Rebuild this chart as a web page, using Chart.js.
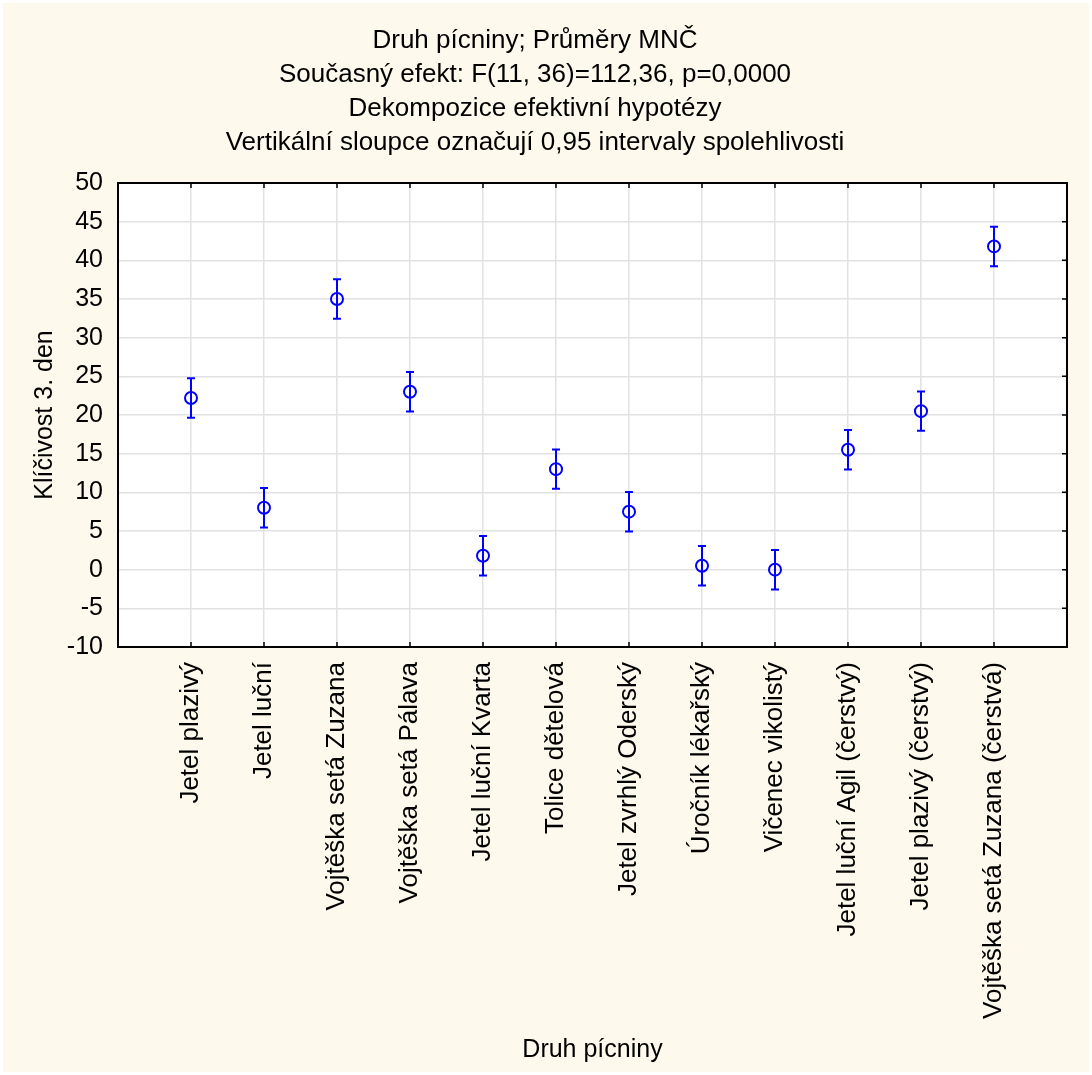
<!DOCTYPE html>
<html>
<head>
<meta charset="utf-8">
<script src="https://cdn.jsdelivr.net/npm/chart.js@4.4.0/dist/chart.umd.min.js"></script>
<style>
html, body { margin: 0; padding: 0; background: #fff; overflow: hidden; }
#wrap { position: absolute; left: 3px; top: 3px; width: 1086px; height: 1069px; background: #fef9ed; }
</style>
</head>
<body>
<div id="wrap"><canvas id="chart" width="1086" height="1069"></canvas></div>
<script>
// data
const categories = [
  "Jetel plazivý", "Jetel luční", "Vojtěška setá Zuzana", "Vojtěška setá Pálava",
  "Jetel luční Kvarta", "Tolice dětelová", "Jetel zvrhlý Oderský", "Úročník lékařský",
  "Vičenec vikolistý", "Jetel luční Agil (čerstvý)", "Jetel plazivý (čerstvý)",
  "Vojtěška setá Zuzana (čerstvá)"
];
const means = [22.2, 8.0, 35.0, 23.0, 1.8, 13.0, 7.5, 0.5, 0.0, 15.5, 20.5, 41.8];
const ciHalf = [2.55, 2.55, 2.55, 2.55, 2.55, 2.55, 2.55, 2.55, 2.55, 2.55, 2.55, 2.55];
const yTickValues = [-10, -5, 0, 5, 10, 15, 20, 25, 30, 35, 40, 45, 50];
const titleLines = [
  "Druh pícniny; Průměry MNČ",
  "Současný efekt: F(11, 36)=112,36, p=0,0000",
  "Dekompozice efektivní hypotézy",
  "Vertikální sloupce označují 0,95 intervaly spolehlivosti"
];

const FONT = "'Liberation Sans', Arial, sans-serif";
const BLUE = "#0000ff";

// white plot area on the cream page
const plotBg = {
  id: "plotBg",
  beforeDraw(chart) {
    const { ctx, chartArea: a } = chart;
    ctx.save();
    ctx.fillStyle = "#ffffff";
    ctx.fillRect(a.left, a.top, a.right - a.left, a.bottom - a.top);
    ctx.restore();
  }
};

// whiskers for the confidence intervals
const errorBars = {
  id: "errorBars",
  afterDatasetsDraw(chart) {
    const { ctx, scales: { x, y } } = chart;
    ctx.save();
    ctx.strokeStyle = BLUE;
    ctx.lineWidth = 2;
    means.forEach((m, i) => {
      const px = x.getPixelForValue(i + 1);
      const top = y.getPixelForValue(m + ciHalf[i]);
      const bot = y.getPixelForValue(m - ciHalf[i]);
      ctx.beginPath();
      ctx.moveTo(px, top); ctx.lineTo(px, bot);
      ctx.moveTo(px - 4, top); ctx.lineTo(px + 4, top);
      ctx.moveTo(px - 4, bot); ctx.lineTo(px + 4, bot);
      ctx.stroke();
    });
    ctx.restore();
  }
};

// black frame + small inward ticks on top/bottom/right
const frame = {
  id: "frame",
  afterDraw(chart) {
    const { ctx, chartArea: a, scales: { x, y } } = chart;
    ctx.save();
    ctx.strokeStyle = "#000";
    ctx.lineWidth = 1.5;
    ctx.beginPath();
    for (let i = 1; i <= categories.length; i++) {
      const px = x.getPixelForValue(i);
      ctx.moveTo(px, a.top); ctx.lineTo(px, a.top + 5);
      ctx.moveTo(px, a.bottom); ctx.lineTo(px, a.bottom - 5);
    }
    yTickValues.forEach(v => {
      const py = y.getPixelForValue(v);
      ctx.moveTo(a.right, py); ctx.lineTo(a.right - 5, py);
    });
    ctx.stroke();
    ctx.lineWidth = 2;
    ctx.strokeRect(a.left, a.top, a.right - a.left, a.bottom - a.top);
    ctx.restore();
  }
};

const ctx = document.getElementById("chart").getContext("2d");
new Chart(ctx, {
  type: "scatter",
  data: {
    datasets: [{
      data: categories.map((c, i) => ({ x: i + 1, y: means[i] })),
      pointStyle: "circle",
      pointRadius: 6,
      pointBorderWidth: 2,
      borderColor: BLUE,
      backgroundColor: "rgba(0,0,0,0)"
    }]
  },
  options: {
    responsive: false,
    animation: false,
    layout: { padding: { left: 0, right: 22, top: 0, bottom: 0 } },
    plugins: {
      legend: { display: false },
      tooltip: { enabled: false },
      title: {
        display: true,
        text: titleLines,
        color: "#000",
        font: { family: FONT, size: 26, weight: "normal", lineHeight: 34 / 26 },
        padding: { top: 21, bottom: 23 }
      }
    },
    scales: {
      x: {
        type: "linear",
        min: 0,
        max: 13,
        afterFit(scale) {
          scale.height = 425;
          scale.paddingLeft = 0;
          scale.paddingRight = 0;
        },
        afterBuildTicks(scale) {
          scale.ticks = [0, ...categories.map((c, i) => i + 1), 13].map(v => ({ value: v }));
        },
        ticks: {
          autoSkip: false,
          maxRotation: 90,
          minRotation: 90,
          padding: 15,
          color: "#000",
          font: { family: FONT, size: 26 },
          callback: v => categories[v - 1] || ""
        },
        grid: { color: "#e2e2e2", lineWidth: 1.5, drawTicks: false },
        border: { display: false },
        title: {
          display: true,
          text: "Druh pícniny",
          color: "#000",
          font: { family: FONT, size: 25 },
          padding: { top: 0, bottom: 7 }
        }
      },
      y: {
        min: -10,
        max: 50,
        afterFit(scale) { scale.width = 115; },
        afterBuildTicks(scale) {
          scale.ticks = yTickValues.map(v => ({ value: v }));
        },
        ticks: {
          padding: 15,
          color: "#000",
          font: { family: FONT, size: 25 }
        },
        grid: { color: "#e2e2e2", lineWidth: 1.5, drawTicks: false },
        border: { display: false },
        title: {
          display: true,
          text: "Klíčivost 3. den",
          color: "#000",
          font: { family: FONT, size: 25 },
          padding: { top: 27, bottom: 0 }
        }
      }
    }
  },
  plugins: [plotBg, errorBars, frame]
});
</script>
</body>
</html>
